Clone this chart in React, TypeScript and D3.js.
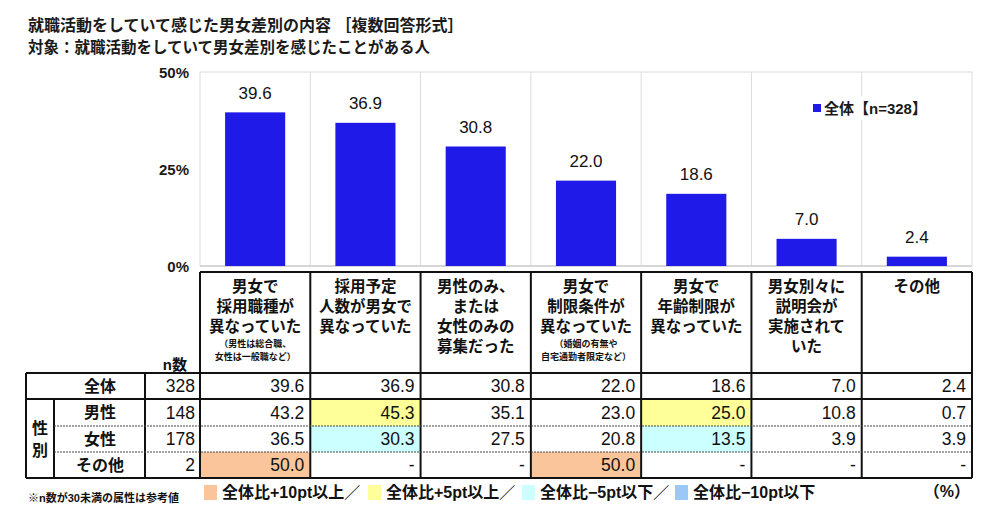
import React from "react";
import * as d3 from "d3";

const categories: string[][] = [
  ["男女で", "採用職種が", "異なっていた"],
  ["採用予定", "人数が男女で", "異なっていた"],
  ["男性のみ、", "または", "女性のみの", "募集だった"],
  ["男女で", "制限条件が", "異なっていた"],
  ["男女で", "年齢制限が", "異なっていた"],
  ["男女別々に", "説明会が", "実施されて", "いた"],
  ["その他"],
];
const categoryNotes: string[][] = [
  ["（男性は総合職、", "女性は一般職など）"],
  [],
  [],
  ["（婚姻の有無や", "自宅通勤者限定など）"],
  [],
  [],
  [],
];
const totalValues = [39.6, 36.9, 30.8, 22.0, 18.6, 7.0, 2.4];
const maleValues = [43.2, 45.3, 35.1, 23.0, 25.0, 10.8, 0.7];
const femaleValues = [36.5, 30.3, 27.5, 20.8, 13.5, 3.9, 3.9];
const otherValues: (number | null)[] = [50.0, null, null, 50.0, null, null, null];
const rowLabels = ["全体", "男性", "女性", "その他"];
const rowN = [328, 148, 178, 2];
const yTicks = [0, 25, 50];
const legendItems = ["全体比+10pt以上／", "全体比+5pt以上／", "全体比−5pt以下／", "全体比−10pt以下"];
const legendColors = ["#FAC59A", "#FFFF99", "#CCFFFF", "#9CC8F5"];

const JP = "'Liberation Sans', 'Noto Sans CJK JP', sans-serif";

function hlColor(v: number | null, base: number): string | null {
  if (v == null) return null;
  const d = v - base;
  if (d >= 10) return legendColors[0];
  if (d >= 5) return legendColors[1];
  if (d <= -10) return legendColors[3];
  if (d <= -5) return legendColors[2];
  return null;
}

export default function App() {
  const W = 1000, H = 512;
  const x = d3.scaleBand<number>().domain(d3.range(categories.length)).range([200, 972]).padding(0);
  const bw = x.bandwidth();
  const barW = bw * 0.545;
  const y = d3.scaleLinear().domain([0, 50]).range([266, 72]);

  const rows: (number | null)[][] = [totalValues, maleValues, femaleValues, otherValues];
  const rowTops = [373, 399, 426, 452, 478];
  const dataLeft = 26, nLeft = 145, sexRight = 54;

  return (
    <svg width={W} height={H} style={{ position: "absolute", left: 0, top: 0, background: "#fff" }} fontFamily={JP}>
      <rect x={0} y={0} width={W} height={H} fill="#fff" />
      {/* titles */}
      <text x={28} y={25} dominantBaseline="central" fontSize={16} fontWeight="bold" fill="#1a1a1a">
        就職活動をしていて感じた男女差別の内容 ［複数回答形式］
      </text>
      <text x={28} y={47} dominantBaseline="central" fontSize={15.5} fontWeight="bold" fill="#1a1a1a">
        対象：就職活動をしていて男女差別を感じたことがある人
      </text>

      {/* plot frame & gridlines */}
      <rect x={200} y={y(50)} width={772} height={y(0) - y(50)} fill="none" stroke="#dcdcdc" strokeWidth={1} />
      {d3.range(1, categories.length).map((i) => (
        <line key={"g" + i} x1={x(i)!} x2={x(i)!} y1={y(50)} y2={y(0)} stroke="#dcdcdc" strokeWidth={1} />
      ))}
      <line x1={200} x2={972} y1={y(0)} y2={y(0)} stroke="#bfbfbf" strokeWidth={1.2} />
      {yTicks.map((t) => (
        <text key={"t" + t} x={189} y={y(t)} textAnchor="end" dominantBaseline="central" fontSize={15} fontWeight="bold" fill="#1a1a1a">
          {t}%
        </text>
      ))}

      {/* legend */}
      <rect x={808} y={96} width={124} height={24} fill="#fff" />
      <rect x={813} y={104} width={8} height={8} fill="#1F1AE8" />
      <text x={824} y={108} dominantBaseline="central" fontSize={15} fontWeight="bold" fill="#1a1a1a">
        全体【n=328】
      </text>

      {/* bars */}
      {totalValues.map((v, i) => {
        const cx = x(i)! + bw / 2;
        return (
          <g key={"b" + i}>
            <rect x={cx - barW / 2} y={y(v)} width={barW} height={y(0) - y(v)} fill="#1F1AE8" />
            <text x={cx} y={y(v) - 19} textAnchor="middle" dominantBaseline="central" fontSize={17} fill="#111">
              {v.toFixed(1)}
            </text>
          </g>
        );
      })}

      {/* table header */}
      {categories.map((lines, i) => {
        const cx = x(i)! + bw / 2;
        return (
          <g key={"h" + i}>
            {lines.map((l, j) => (
              <text key={j} x={cx} y={286 + j * 20} textAnchor="middle" dominantBaseline="central" fontSize={15.5} fontWeight="bold" fill="#111">
                {l}
              </text>
            ))}
            {categoryNotes[i].map((l, j) => (
              <text key={"n" + j} x={cx} y={344 + j * 13} textAnchor="middle" dominantBaseline="central" fontSize={9} fontWeight="bold" fill="#111">
                {l}
              </text>
            ))}
          </g>
        );
      })}
      <text x={187} y={364} textAnchor="end" dominantBaseline="central" fontSize={15} fontWeight="bold" fill="#111">
        n数
      </text>

      {/* cell highlights */}
      {rows.map((r, ri) =>
        ri === 0
          ? null
          : r.map((v, ci) => {
              const c = hlColor(v, totalValues[ci]);
              if (!c) return null;
              return <rect key={"c" + ri + "-" + ci} x={x(ci)!} y={rowTops[ri]} width={bw} height={rowTops[ri + 1] - rowTops[ri]} fill={c} />;
            })
      )}

      {/* table lines */}
      <g stroke="#111" strokeWidth={2} fill="none">
        <line x1={200} x2={972} y1={272} y2={272} />
        {d3.range(categories.length + 1).map((i) => {
          const xx = i === categories.length ? 972 : x(i)!;
          return <line key={"v" + i} x1={xx} x2={xx} y1={272} y2={rowTops[4]} />;
        })}
        <line x1={dataLeft} x2={972} y1={rowTops[0]} y2={rowTops[0]} />
        <line x1={dataLeft} x2={972} y1={rowTops[1]} y2={rowTops[1]} />
        <line x1={dataLeft} x2={972} y1={rowTops[4]} y2={rowTops[4]} />
        <line x1={dataLeft} x2={dataLeft} y1={rowTops[0]} y2={rowTops[4]} />
        <line x1={nLeft} x2={nLeft} y1={rowTops[0]} y2={rowTops[4]} />
        <line x1={sexRight} x2={sexRight} y1={rowTops[1]} y2={rowTops[4]} />
      </g>
      <g stroke="#444" strokeWidth={1.2} strokeDasharray="2,1">
        <line x1={sexRight} x2={972} y1={rowTops[2]} y2={rowTops[2]} />
        <line x1={sexRight} x2={972} y1={rowTops[3]} y2={rowTops[3]} />
      </g>

      {/* row labels */}
      {rowLabels.map((l, ri) => {
        const cy = (rowTops[ri] + rowTops[ri + 1]) / 2;
        return (
          <g key={"r" + ri}>
            <text x={100} y={cy} textAnchor="middle" dominantBaseline="central" fontSize={16} fontWeight="bold" fill="#111">
              {l}
            </text>
            <text x={195} y={cy} textAnchor="end" dominantBaseline="central" fontSize={17.5} fill="#111">
              {rowN[ri]}
            </text>
            {rows[ri].map((v, ci) => (
              <text key={ci} x={x(ci)! + bw - 6} y={cy} textAnchor="end" dominantBaseline="central" fontSize={17.5} fill="#111">
                {v == null ? "-" : v.toFixed(1)}
              </text>
            ))}
          </g>
        );
      })}
      <text x={40} y={428} textAnchor="middle" dominantBaseline="central" fontSize={16} fontWeight="bold" fill="#111">性</text>
      <text x={40} y={450} textAnchor="middle" dominantBaseline="central" fontSize={16} fontWeight="bold" fill="#111">別</text>

      {/* footer */}
      <text x={28} y={498} dominantBaseline="central" fontSize={11} fontWeight="bold" fill="#111">
        ※n数が30未満の属性は参考値
      </text>
      {legendItems.map((l, i) => {
        const sx = [204, 368, 522, 675][i];
        return (
          <g key={"l" + i}>
            <rect x={sx} y={485} width={13} height={15} fill={legendColors[i]} />
            <text x={sx + 18} y={492} dominantBaseline="central" fontSize={16} fontWeight="bold" fill="#111">
              {l}
            </text>
          </g>
        );
      })}
      <text x={970} y={491} textAnchor="end" dominantBaseline="central" fontSize={16} fontWeight="bold" fill="#111">
        （%）
      </text>
    </svg>
  );
}
